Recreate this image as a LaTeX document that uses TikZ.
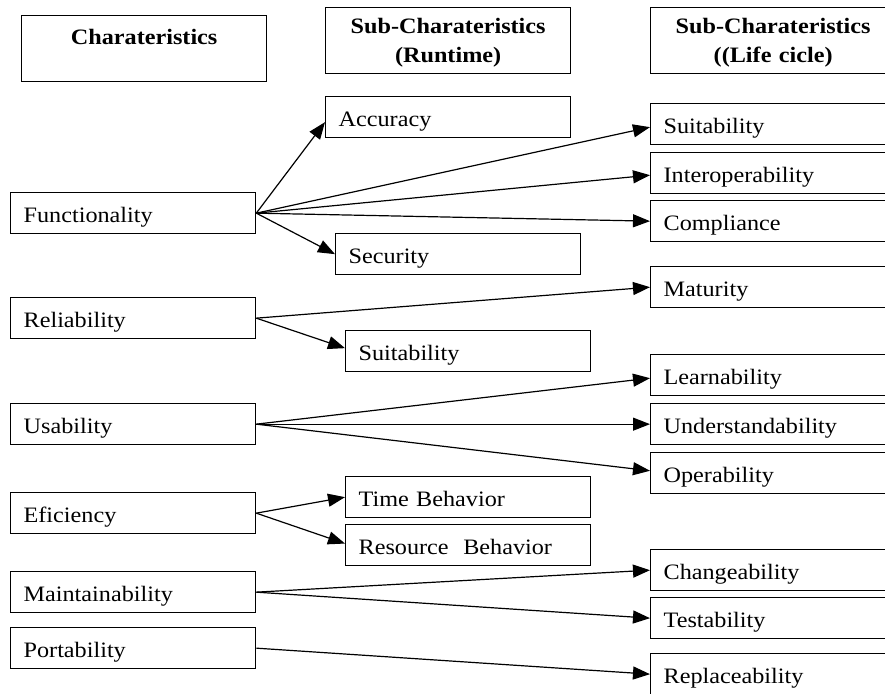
\documentclass[tikz,border=0pt]{standalone}
\usepackage{fontspec}
\setmainfont{Liberation Serif}[FakeStretch=1.1]
\usetikzlibrary{arrows.meta}
\begin{document}
\begin{tikzpicture}[x=0.5pt,y=-0.5pt,
  box/.style={draw, line width=0.65pt, anchor=north west, minimum width=122.5pt, minimum height=20.5pt, text width=109.5pt, text height=10pt, text depth=0.5pt, inner xsep=6.5pt, inner ysep=0pt, align=left, font=\fontsize{11}{13}\selectfont},
  head/.style={draw, line width=0.65pt, anchor=north west, minimum width=122.5pt, minimum height=33pt, text width=120pt, inner xsep=1.25pt, inner ysep=0pt, align=center, font=\fontsize{11}{14.5}\selectfont\bfseries},
  arr/.style={line width=0.6pt, -{Triangle[length=8.5pt,width=6.5pt]}}]
\useasboundingbox (0,0) rectangle (885,693);
% headers
\node[head] (h1) at (21,15) {\rule{0pt}{10pt}Charateristics\\\mbox{}};
\node[head] (h2) at (325,7) {\rule{0pt}{10pt}Sub-Charateristics\\(Runtime)};
\node[head] (h3) at (650,7) {\rule{0pt}{10pt}Sub-Charateristics\\((Life cicle)};
% left column
\node[box] (func) at (10,192) {Functionality};
\node[box] (rel) at (10,297) {Reliability};
\node[box] (usa) at (10,403) {Usability};
\node[box] (efi) at (10,492) {Eficiency};
\node[box] (main) at (10,571) {Maintainability};
\node[box] (port) at (10,627) {Portability};
% middle column
\node[box] (acc) at (325,96) {Accuracy};
\node[box] (sec) at (335,233) {Security};
\node[box] (suit2) at (345,330) {Suitability};
\node[box] (time) at (345,476) {Time Behavior};
\node[box] (res) at (345,524) {Resource\ \ Behavior};
% right column
\node[box] (suit) at (650,103) {Suitability};
\node[box] (inter) at (650,152) {Interoperability};
\node[box] (comp) at (650,200) {Compliance};
\node[box] (mat) at (650,266) {Maturity};
\node[box] (learn) at (650,354) {Learnability};
\node[box] (under) at (650,403) {Understandability};
\node[box] (oper) at (650,452) {Operability};
\node[box] (chan) at (650,549) {Changeability};
\node[box] (test) at (650,597) {Testability};
\node[box] (repl) at (650,653) {Replaceability};
% arrows
\draw[arr] (func.east) -- ([yshift=-2.5pt]acc.west);
\draw[arr] (func.east) -- ([yshift=-1.5pt]suit.west);
\draw[arr] (func.east) -- ([yshift=-1pt]inter.west);
\draw[arr] (func.east) -- (comp.west);
\draw[arr] (func.east) -- (sec.west);
\draw[arr] (rel.east) -- (mat.west);
\draw[arr] (rel.east) -- ([yshift=1.5pt]suit2.west);
\draw[arr] (usa.east) -- ([yshift=-1.5pt]learn.west);
\draw[arr] (usa.east) -- (under.west);
\draw[arr] (usa.east) -- ([yshift=1.2pt]oper.west);
\draw[arr] (efi.east) -- (time.west);
\draw[arr] (efi.east) -- ([yshift=0.8pt]res.west);
\draw[arr] (main.east) -- (chan.west);
\draw[arr] (main.east) -- (test.west);
\draw[arr] (port.east) -- (repl.west);
\end{tikzpicture}
\end{document}
